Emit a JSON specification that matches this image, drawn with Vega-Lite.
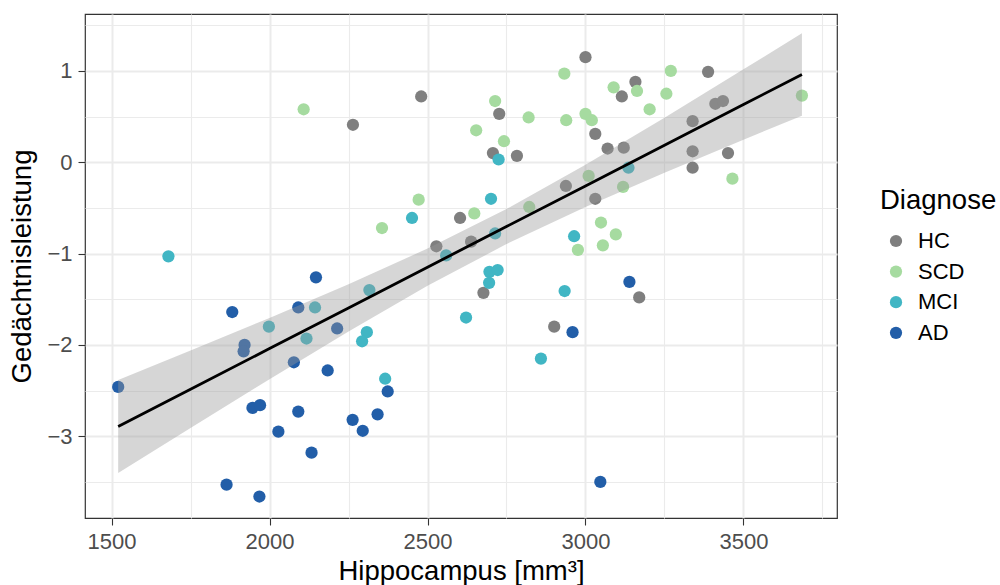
{
  "$schema": "https://vega.github.io/schema/vega-lite/v6.json",
  "width": 752,
  "height": 504,
  "autosize": {"type": "none"},
  "padding": {"left": 85, "top": 14, "right": 163, "bottom": 67},
  "background": "white",
  "config": {
    "font": "Liberation Sans",
    "view": {"stroke": "#333333", "strokeWidth": 1.2},
    "axis": {
      "domain": false,
      "tickColor": "#333333",
      "tickWidth": 1.1,
      "tickSize": 7,
      "labelColor": "#4d4d4d",
      "labelFontSize": 22,
      "titleColor": "#000000",
      "titleFontSize": 27.5,
      "titleFontWeight": "normal",
      "gridColor": "#ebebeb"
    }
  },
  "datasets": {
    "scores": [
      {"hippocampus": 2264, "score": 0.41, "diagnose": "HC"},
      {"hippocampus": 2480, "score": 0.72, "diagnose": "HC"},
      {"hippocampus": 3000, "score": 1.15, "diagnose": "HC"},
      {"hippocampus": 2727, "score": 0.53, "diagnose": "HC"},
      {"hippocampus": 2707, "score": 0.10, "diagnose": "HC"},
      {"hippocampus": 2783, "score": 0.07, "diagnose": "HC"},
      {"hippocampus": 2938, "score": -0.26, "diagnose": "HC"},
      {"hippocampus": 2603, "score": -0.61, "diagnose": "HC"},
      {"hippocampus": 2528, "score": -0.92, "diagnose": "HC"},
      {"hippocampus": 2638, "score": -0.87, "diagnose": "HC"},
      {"hippocampus": 3388, "score": 0.99, "diagnose": "HC"},
      {"hippocampus": 3158, "score": 0.88, "diagnose": "HC"},
      {"hippocampus": 3115, "score": 0.72, "diagnose": "HC"},
      {"hippocampus": 3411, "score": 0.64, "diagnose": "HC"},
      {"hippocampus": 3435, "score": 0.67, "diagnose": "HC"},
      {"hippocampus": 3031, "score": 0.31, "diagnose": "HC"},
      {"hippocampus": 3070, "score": 0.15, "diagnose": "HC"},
      {"hippocampus": 3121, "score": 0.16, "diagnose": "HC"},
      {"hippocampus": 3339, "score": 0.45, "diagnose": "HC"},
      {"hippocampus": 3339, "score": 0.12, "diagnose": "HC"},
      {"hippocampus": 3339, "score": -0.06, "diagnose": "HC"},
      {"hippocampus": 3451, "score": 0.10, "diagnose": "HC"},
      {"hippocampus": 3031, "score": -0.40, "diagnose": "HC"},
      {"hippocampus": 2677, "score": -1.43, "diagnose": "HC"},
      {"hippocampus": 2901, "score": -1.80, "diagnose": "HC"},
      {"hippocampus": 3170, "score": -1.48, "diagnose": "HC"},
      {"hippocampus": 2108, "score": 0.58, "diagnose": "SCD"},
      {"hippocampus": 2933, "score": 0.97, "diagnose": "SCD"},
      {"hippocampus": 2714, "score": 0.67, "diagnose": "SCD"},
      {"hippocampus": 2820, "score": 0.49, "diagnose": "SCD"},
      {"hippocampus": 2939, "score": 0.46, "diagnose": "SCD"},
      {"hippocampus": 2654, "score": 0.35, "diagnose": "SCD"},
      {"hippocampus": 2742, "score": 0.23, "diagnose": "SCD"},
      {"hippocampus": 3010, "score": -0.15, "diagnose": "SCD"},
      {"hippocampus": 2472, "score": -0.41, "diagnose": "SCD"},
      {"hippocampus": 2356, "score": -0.72, "diagnose": "SCD"},
      {"hippocampus": 2648, "score": -0.56, "diagnose": "SCD"},
      {"hippocampus": 2822, "score": -0.49, "diagnose": "SCD"},
      {"hippocampus": 2976, "score": -0.96, "diagnose": "SCD"},
      {"hippocampus": 3270, "score": 1.00, "diagnose": "SCD"},
      {"hippocampus": 3089, "score": 0.82, "diagnose": "SCD"},
      {"hippocampus": 3163, "score": 0.78, "diagnose": "SCD"},
      {"hippocampus": 3256, "score": 0.75, "diagnose": "SCD"},
      {"hippocampus": 3203, "score": 0.58, "diagnose": "SCD"},
      {"hippocampus": 3685, "score": 0.73, "diagnose": "SCD"},
      {"hippocampus": 3000, "score": 0.53, "diagnose": "SCD"},
      {"hippocampus": 3020, "score": 0.46, "diagnose": "SCD"},
      {"hippocampus": 3465, "score": -0.18, "diagnose": "SCD"},
      {"hippocampus": 3119, "score": -0.27, "diagnose": "SCD"},
      {"hippocampus": 3049, "score": -0.66, "diagnose": "SCD"},
      {"hippocampus": 3096, "score": -0.79, "diagnose": "SCD"},
      {"hippocampus": 3055, "score": -0.91, "diagnose": "SCD"},
      {"hippocampus": 1680, "score": -1.03, "diagnose": "MCI"},
      {"hippocampus": 2725, "score": 0.03, "diagnose": "MCI"},
      {"hippocampus": 2451, "score": -0.61, "diagnose": "MCI"},
      {"hippocampus": 2701, "score": -0.40, "diagnose": "MCI"},
      {"hippocampus": 2714, "score": -0.78, "diagnose": "MCI"},
      {"hippocampus": 2559, "score": -1.02, "diagnose": "MCI"},
      {"hippocampus": 2964, "score": -0.81, "diagnose": "MCI"},
      {"hippocampus": 3136, "score": -0.06, "diagnose": "MCI"},
      {"hippocampus": 2144, "score": -1.59, "diagnose": "MCI"},
      {"hippocampus": 1998, "score": -1.80, "diagnose": "MCI"},
      {"hippocampus": 2117, "score": -1.93, "diagnose": "MCI"},
      {"hippocampus": 2316, "score": -1.40, "diagnose": "MCI"},
      {"hippocampus": 2308, "score": -1.86, "diagnose": "MCI"},
      {"hippocampus": 2293, "score": -1.96, "diagnose": "MCI"},
      {"hippocampus": 2366, "score": -2.37, "diagnose": "MCI"},
      {"hippocampus": 2696, "score": -1.20, "diagnose": "MCI"},
      {"hippocampus": 2722, "score": -1.18, "diagnose": "MCI"},
      {"hippocampus": 2695, "score": -1.32, "diagnose": "MCI"},
      {"hippocampus": 2622, "score": -1.70, "diagnose": "MCI"},
      {"hippocampus": 2934, "score": -1.41, "diagnose": "MCI"},
      {"hippocampus": 2859, "score": -2.15, "diagnose": "MCI"},
      {"hippocampus": 2147, "score": -1.26, "diagnose": "AD"},
      {"hippocampus": 1882, "score": -1.64, "diagnose": "AD"},
      {"hippocampus": 2091, "score": -1.59, "diagnose": "AD"},
      {"hippocampus": 2214, "score": -1.82, "diagnose": "AD"},
      {"hippocampus": 1921, "score": -2.00, "diagnose": "AD"},
      {"hippocampus": 1918, "score": -2.07, "diagnose": "AD"},
      {"hippocampus": 2077, "score": -2.19, "diagnose": "AD"},
      {"hippocampus": 2184, "score": -2.28, "diagnose": "AD"},
      {"hippocampus": 1521, "score": -2.46, "diagnose": "AD"},
      {"hippocampus": 1946, "score": -2.69, "diagnose": "AD"},
      {"hippocampus": 1970, "score": -2.66, "diagnose": "AD"},
      {"hippocampus": 2091, "score": -2.73, "diagnose": "AD"},
      {"hippocampus": 2028, "score": -2.95, "diagnose": "AD"},
      {"hippocampus": 2133, "score": -3.18, "diagnose": "AD"},
      {"hippocampus": 1864, "score": -3.53, "diagnose": "AD"},
      {"hippocampus": 1968, "score": -3.66, "diagnose": "AD"},
      {"hippocampus": 2374, "score": -2.51, "diagnose": "AD"},
      {"hippocampus": 2342, "score": -2.76, "diagnose": "AD"},
      {"hippocampus": 2263, "score": -2.82, "diagnose": "AD"},
      {"hippocampus": 2295, "score": -2.94, "diagnose": "AD"},
      {"hippocampus": 3139, "score": -1.31, "diagnose": "AD"},
      {"hippocampus": 2959, "score": -1.86, "diagnose": "AD"},
      {"hippocampus": 3047, "score": -3.50, "diagnose": "AD"}
    ],
    "fit": [
      {"hippocampus": 1521, "fit": -2.893, "lower": -3.403, "upper": -2.383},
      {"hippocampus": 1750, "fit": -2.485, "lower": -2.910, "upper": -2.060},
      {"hippocampus": 2000, "fit": -2.040, "lower": -2.376, "upper": -1.704},
      {"hippocampus": 2250, "fit": -1.595, "lower": -1.854, "upper": -1.336},
      {"hippocampus": 2500, "fit": -1.149, "lower": -1.353, "upper": -0.945},
      {"hippocampus": 2750, "fit": -0.704, "lower": -0.896, "upper": -0.512},
      {"hippocampus": 3000, "fit": -0.259, "lower": -0.490, "upper": -0.028},
      {"hippocampus": 3250, "fit": 0.186, "lower": -0.114, "upper": 0.486},
      {"hippocampus": 3500, "fit": 0.632, "lower": 0.247, "upper": 1.017},
      {"hippocampus": 3685, "fit": 0.961, "lower": 0.509, "upper": 1.413}
    ]
  },
  "layer": [
    {
      "data": {"name": "fit"},
      "mark": {"type": "point", "opacity": 0},
      "encoding": {
        "x": {
          "field": "hippocampus", "type": "quantitative",
          "scale": {"domain": [1416, 3796], "nice": false, "zero": false},
          "axis": {"orient": "top", "values": [1750, 2250, 2750, 3250, 3750], "grid": true, "gridWidth": 1.1, "labels": false, "ticks": false, "title": null}
        },
        "y": {
          "field": "fit", "type": "quantitative",
          "scale": {"domain": [-3.895, 1.623], "nice": false, "zero": false},
          "axis": {"orient": "right", "values": [-3.5, -2.5, -1.5, -0.5, 0.5, 1.5], "grid": true, "gridWidth": 1.1, "labels": false, "ticks": false, "title": null}
        }
      }
    },
    {
      "data": {"name": "scores"},
      "mark": {"type": "circle", "size": 150, "opacity": 1},
      "encoding": {
        "x": {
          "field": "hippocampus", "type": "quantitative",
          "scale": {"domain": [1416, 3796], "nice": false, "zero": false},
          "axis": {"orient": "bottom", "values": [1500, 2000, 2500, 3000, 3500], "format": "d", "grid": true, "gridWidth": 2, "labelPadding": 6, "title": "Hippocampus [mm³]", "titlePadding": 5}
        },
        "y": {
          "field": "score", "type": "quantitative",
          "scale": {"domain": [-3.895, 1.623], "nice": false, "zero": false},
          "axis": {"orient": "left", "values": [-3, -2, -1, 0, 1], "format": "d", "grid": true, "gridWidth": 2, "labelPadding": 6, "title": "Gedächtnisleistung", "titlePadding": 10}
        },
        "color": {
          "field": "diagnose", "type": "nominal",
          "scale": {"domain": ["HC", "SCD", "MCI", "AD"], "range": ["#7f7f7f", "#a6dba0", "#41b6c4", "#225ea8"]},
          "legend": {
            "title": "Diagnose",
            "orient": "none",
            "legendX": 795,
            "legendY": 173,
            "titleFontSize": 27.5,
            "titleFontWeight": "normal",
            "titleColor": "#000000",
            "titlePadding": 15.5,
            "labelFontSize": 22,
            "labelColor": "#000000",
            "labelOffset": 11,
            "symbolType": "circle",
            "symbolSize": 150,
            "symbolOpacity": 1,
            "symbolStrokeWidth": 0,
            "symbolOffset": 5,
            "rowPadding": 8.6
          }
        }
      }
    },
    {
      "data": {"name": "fit"},
      "mark": {"type": "area", "color": "#999999", "opacity": 0.4},
      "encoding": {
        "x": {"field": "hippocampus", "type": "quantitative", "scale": {"domain": [1416, 3796], "nice": false, "zero": false}, "axis": null},
        "y": {"field": "lower", "type": "quantitative", "scale": {"domain": [-3.895, 1.623], "nice": false, "zero": false}, "axis": null},
        "y2": {"field": "upper"}
      }
    },
    {
      "data": {"name": "fit"},
      "mark": {"type": "line", "color": "#000000", "strokeWidth": 2.8},
      "encoding": {
        "x": {"field": "hippocampus", "type": "quantitative", "scale": {"domain": [1416, 3796], "nice": false, "zero": false}, "axis": null},
        "y": {"field": "fit", "type": "quantitative", "scale": {"domain": [-3.895, 1.623], "nice": false, "zero": false}, "axis": null}
      }
    }
  ],
  "resolve": {"axis": {"x": "independent", "y": "independent"}}
}
